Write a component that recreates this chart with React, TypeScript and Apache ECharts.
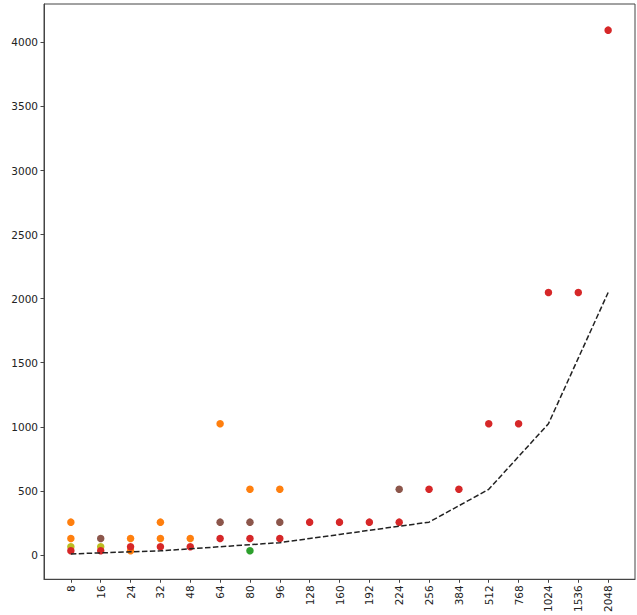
import React, { useEffect, useRef } from "react";
import * as echarts from "echarts";

const categories = ["8", "16", "24", "32", "48", "64", "80", "96", "128", "160", "192", "224", "256", "384", "512", "768", "1024", "1536", "2048"];
const lineValues = [8, 16, 24, 32, 48, 64, 80, 96, 128, 160, 192, 224, 256, 384, 512, 768, 1024, 1536, 2048];
const yTicks = [0, 500, 1000, 1500, 2000, 2500, 3000, 3500, 4000];

// [category, value]
const orangePts: [string, number][] = [
  ["8", 256], ["8", 128], ["24", 128], ["24", 32], ["32", 256], ["32", 128],
  ["48", 128], ["64", 1024], ["80", 512], ["96", 512],
];
const greenPts: [string, number][] = [["80", 32]];
const brownPts: [string, number][] = [
  ["16", 128], ["64", 256], ["80", 256], ["96", 256], ["224", 512],
];
const olivePts: [string, number][] = [["8", 64], ["16", 64]];
const redPts: [string, number][] = [
  ["8", 32], ["16", 32], ["24", 64], ["32", 64], ["48", 64], ["64", 128], ["80", 128], ["96", 128],
  ["128", 256], ["160", 256], ["192", 256], ["224", 256], ["256", 512], ["384", 512],
  ["512", 1024], ["768", 1024], ["1024", 2048], ["1536", 2048], ["2048", 4096],
];

const toXY = (pts: [string, number][]) => pts.map(([c, v]) => [categories.indexOf(c), v]);

export default function App() {
  const ref = useRef<HTMLDivElement>(null);
  useEffect(() => {
    const chart = echarts.init(ref.current!, null, { renderer: "svg" });
    const scatter = (name: string, color: string, pts: [string, number][]) => ({
      name,
      type: "scatter",
      data: toXY(pts),
      symbol: "circle",
      symbolSize: 7.5,
      itemStyle: { color, opacity: 1 },
      z: 3,
    });
    const tickIdx = categories.map((_, i) => i);
    chart.setOption({
      animation: false,
      backgroundColor: "#fff",
      grid: { left: 44, right: 2, top: 4, bottom: 35, show: true, borderColor: "#444", borderWidth: 1, backgroundColor: "transparent" },
      xAxis: {
        type: "value",
        min: -0.9,
        max: 18.9,
        splitLine: { show: false },
        axisLine: { show: true, onZero: false, lineStyle: { color: "#444", width: 1 } },
        axisTick: { show: true, length: 3.5, customValues: tickIdx, lineStyle: { color: "#444" } },
        axisLabel: {
          customValues: tickIdx,
          rotate: 90,
          formatter: (v: number) => categories[Math.round(v)] ?? "",
          fontFamily: "DejaVu Sans",
          fontSize: 10.5,
          color: "#222",
          margin: 6,
        },
      },
      yAxis: {
        type: "value",
        min: -190,
        max: 4300,
        splitLine: { show: false },
        axisLine: { show: true, onZero: false, lineStyle: { color: "#444", width: 1 } },
        axisTick: { show: true, length: 3.5, customValues: yTicks, lineStyle: { color: "#444" } },
        axisLabel: {
          customValues: yTicks,
          formatter: (v: number) => String(v),
          fontFamily: "DejaVu Sans",
          fontSize: 10.5,
          color: "#222",
          margin: 6,
        },
      },
      series: [
        scatter("orange", "#ff7f0e", orangePts),
        scatter("green", "#2ca02c", greenPts),
        scatter("brown", "#8c564b", brownPts),
        scatter("olive", "#bcbd22", olivePts),
        scatter("red", "#d62728", redPts),
        {
          name: "ideal",
          type: "line",
          data: lineValues.map((v, i) => [i, v]),
          symbol: "none",
          lineStyle: { color: "#222", width: 1.5, type: [5.5, 2.4] },
          z: 4,
        },
      ],
    });
    return () => chart.dispose();
  }, []);
  return <div ref={ref} style={{ position: "absolute", left: 0, top: 0, width: 637, height: 615 }} />;
}
